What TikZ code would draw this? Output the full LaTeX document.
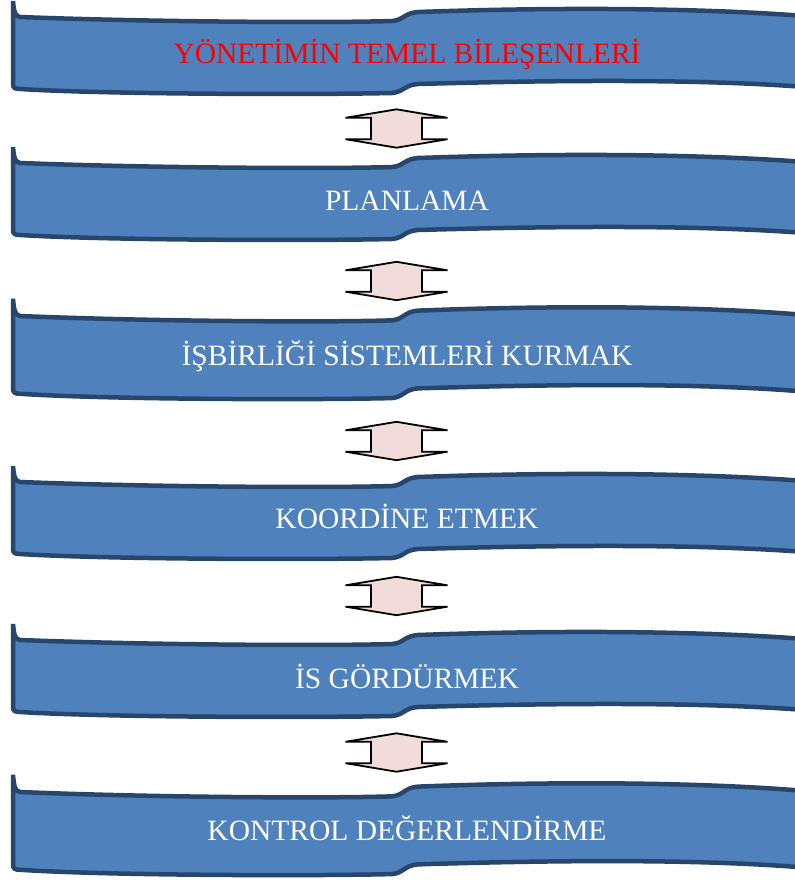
\documentclass[tikz,border=0pt]{standalone}
\usepackage{fontspec}
\setmainfont{Liberation Serif}
\usepackage{tikz}

\definecolor{bannerfill}{HTML}{4F81BD}
\definecolor{bannerline}{HTML}{28456B}
\definecolor{arrowfill}{HTML}{F2DCDB}

\tikzset{
    bannerbox/.style={draw=bannerline, fill=bannerfill, line width=4.5pt, miter limit=4},
    arrowbox/.style={draw=black, fill=arrowfill, line width=1.8pt},
    label/.style={anchor=base, font=\fontsize{29.5}{32}\selectfont, text=white},
    pics/banner/.style={code={
        \draw[bannerbox] (13,-16) .. controls (14,-5) and (15,-1) .. (20,0)
            .. controls (150,5) and (330,6) .. (392,4)
            .. controls (404,3) and (404,-4) .. (418,-5)
            .. controls (560,-10) and (700,-9) .. (805,-1)
            -- (805,70)
            .. controls (700,62) and (560,63) .. (418,67)
            .. controls (404,68) and (404,75) .. (392,76)
            .. controls (300,78) and (100,77) .. (20,72)
            .. controls (15,72) and (13,71) .. (13,67) -- cycle;
    }},
    pics/updown/.style={code={
        \draw[arrowbox] (0,-19.2) -- (51,-10.7) -- (25.5,-10.7) -- (25.5,10.7)
            -- (51,10.7) -- (0,19.2) -- (-51,10.7) -- (-25.5,10.7)
            -- (-25.5,-10.7) -- (-51,-10.7) -- cycle;
    }}
}

\begin{document}
\begin{tikzpicture}[x=1pt, y=-1pt]
    \useasboundingbox (0,0) rectangle (795,884);

    % banners
    \pic at (0,17) {banner};
    \pic at (0,163) {banner};
    \pic[yscale=1.08] at (0,316) {banner};
    \pic at (0,482) {banner};
    \pic at (0,640) {banner};
    \pic[yscale=1.08] at (0,792) {banner};

    % texts
    \node[label, text=red] (t1) at (407,63) {YÖNETİMİN TEMEL BİLEŞENLERİ};
    \node[label] (t2) at (407,210) {PLANLAMA};
    \node[label] (t3) at (407,365.5) {İŞBİRLİĞİ SİSTEMLERİ KURMAK};
    \node[label] (t4) at (407,528.5) {KOORDİNE ETMEK};
    \node[label] (t5) at (407,688) {İS GÖRDÜRMEK};
    \node[label] (t6) at (407,840) {KONTROL DEĞERLENDİRME};

    % double arrows between the banners
    \pic at (396.5,128.5) {updown};
    \pic at (396.5,281) {updown};
    \pic at (396.5,441) {updown};
    \pic at (396.5,596) {updown};
    \pic at (396.5,752.5) {updown};
\end{tikzpicture}
\end{document}
